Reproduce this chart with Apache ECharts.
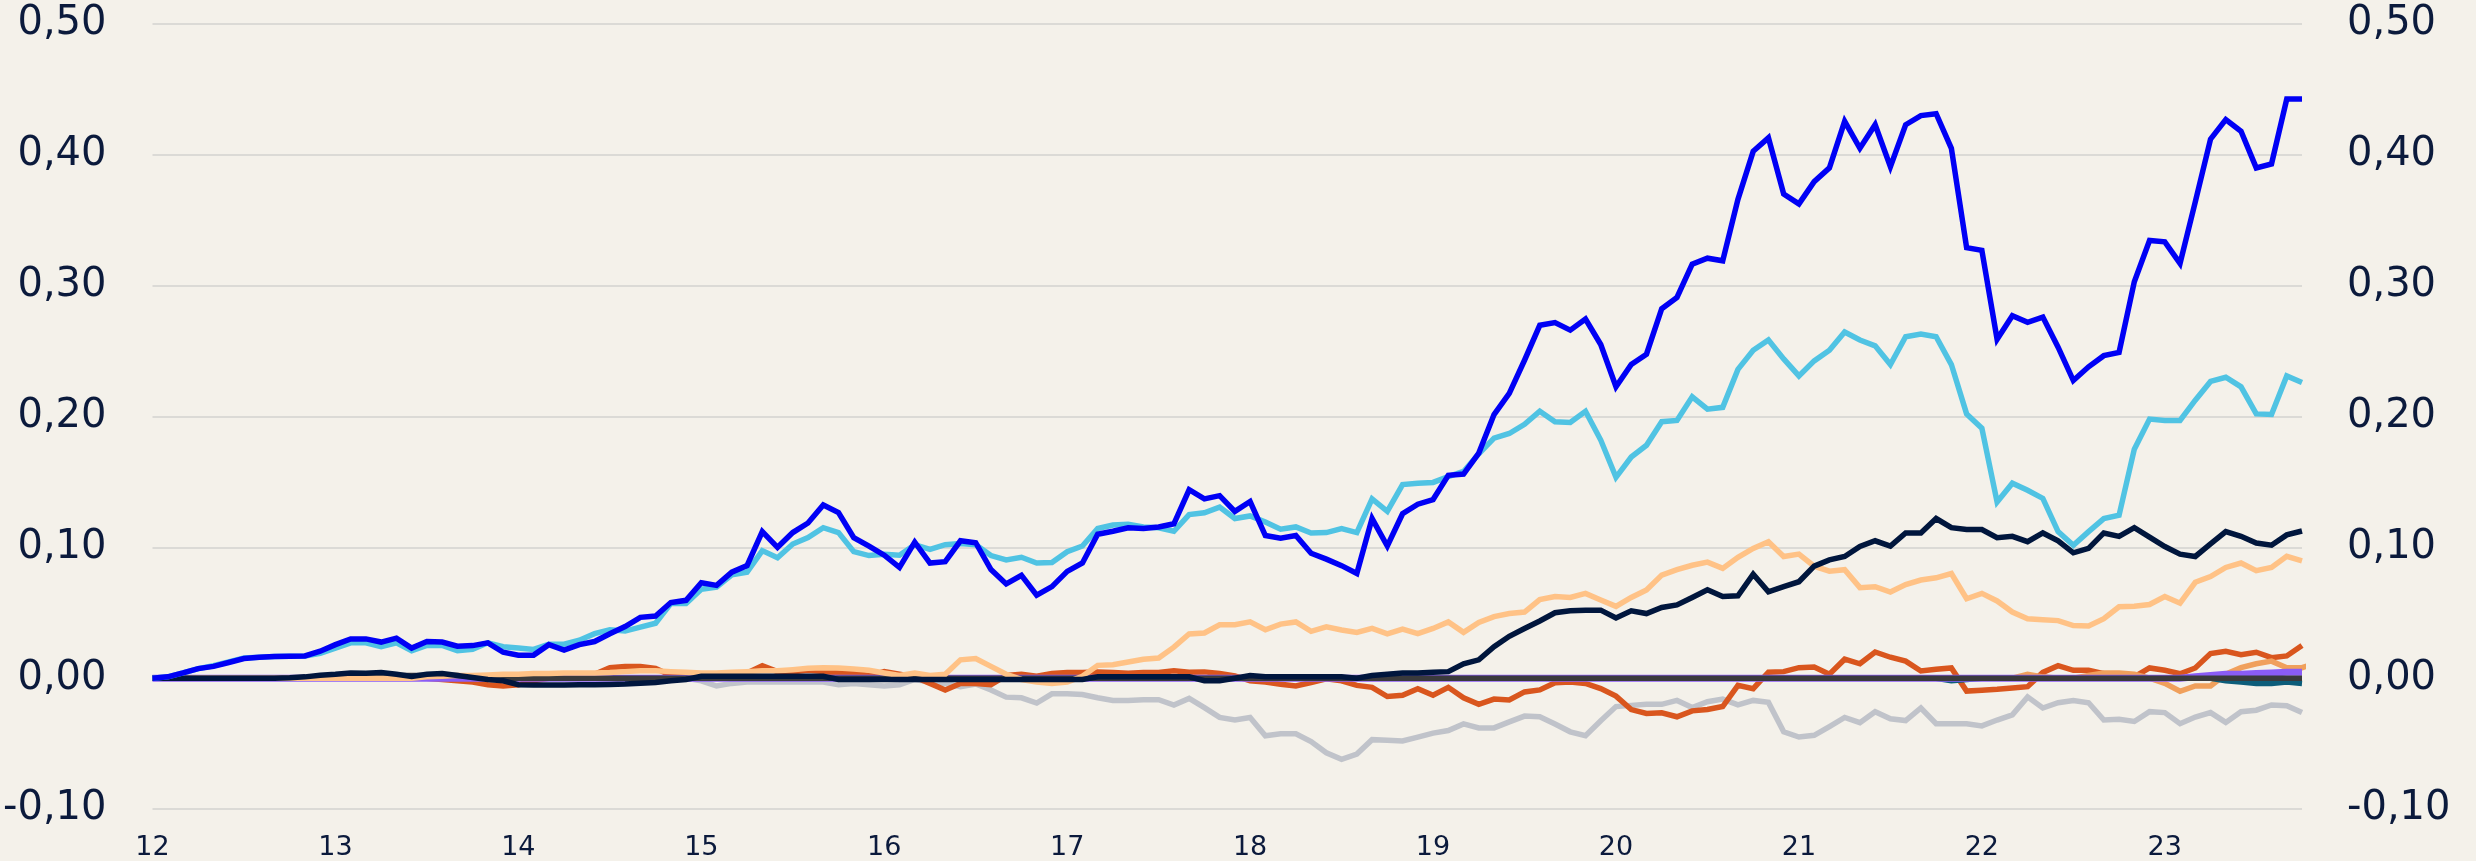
<!DOCTYPE html>
<html>
<head>
<meta charset="utf-8">
<script src="https://cdn.jsdelivr.net/npm/echarts@6/dist/echarts.min.js"></script>
<style>
html,body{margin:0;padding:0;background:#F4F1EA;}
#chart{width:2476px;height:861px;}
</style>
</head>
<body>
<div id="chart"></div>
<script>
// Year tick labels (x axis), monthly points Jan 2012 .. Oct 2023
const yearLabels = ['12','13','14','15','16','17','18','19','20','21','22','23'];
const yTicks = [-0.1, 0, 0.1, 0.2, 0.3, 0.4, 0.5];

const blue = [
0,0.001,0.004,0.0073,0.009,0.012,0.015,0.016,0.0166,0.0168,
0.017,0.0206,0.0256,0.030,0.030,0.0276,0.0306,0.023,0.028,0.0276,
0.0244,0.0249,0.027,0.0198,0.0176,0.0176,0.0256,0.0214,0.0256,0.028,
0.034,0.0394,0.0465,0.0475,0.0578,0.0595,0.0729,0.0709,0.081,0.086,
0.112,0.100,0.1113,0.1186,0.1324,0.1266,0.1073,0.101,0.094,0.0846,
0.104,0.088,0.089,0.105,0.1035,0.083,0.072,0.0786,0.0635,0.070,
0.0816,0.088,0.110,0.1123,0.115,0.1144,0.1156,0.118,0.144,0.137,
0.1395,0.1275,0.135,0.109,0.107,0.109,0.0955,0.091,0.086,0.080,
0.122,0.101,0.1257,0.133,0.1365,0.155,
0.156,0.172,0.2015,0.2176,0.243,0.2697,0.2718,0.266,0.2745,0.255,
0.2227,0.2397,0.2476,0.2824,0.291,0.3165,0.321,0.319,0.366,0.4027,
0.413,0.370,0.3625,0.3795,0.39,0.4256,0.405,0.423,
0.391,0.423,0.430,0.4314,0.405,0.329,0.327,0.259,0.277,0.272,
0.276,0.253,0.2275,0.238,0.2465,0.249,0.303,0.3345,0.3335,0.317,
0.364,0.412,0.427,0.418,0.39,0.393,0.4426,0.4426
];

const lightBlue = [
0,0.001,0.004,0.0073,0.0095,0.0125,0.0155,0.016,0.0166,0.0168,
0.017,0.019,0.023,0.027,0.027,0.024,0.027,0.021,0.025,0.025,
0.021,0.022,0.027,0.024,0.023,0.022,0.026,0.026,0.029,0.034,
0.037,0.036,0.039,0.042,0.057,0.057,0.068,0.0695,0.079,0.081,
0.0975,0.092,0.1025,0.1075,0.115,0.1113,0.0967,0.0937,0.0947,0.094,
0.102,0.0985,0.102,0.103,0.102,0.0937,0.0904,0.0924,0.088,0.0884,
0.0967,0.101,0.1144,0.117,0.1176,0.1156,0.1149,0.1123,0.125,0.1264,
0.1307,0.122,0.124,0.1194,0.1139,0.1156,0.111,0.1113,0.1144,0.1113,
0.137,0.1275,0.148,0.149,0.1496,0.154,
0.158,0.1715,0.1835,0.187,0.194,0.204,0.196,0.1954,0.204,0.182,
0.1535,0.169,0.178,0.196,0.197,0.215,0.2056,0.207,0.236,0.2506,
0.2585,0.244,0.231,0.2425,0.2506,0.2646,0.2585,0.254,
0.2397,0.261,0.263,0.261,0.2397,0.202,0.191,0.1347,0.149,0.1436,
0.1374,0.112,0.1016,0.112,0.122,0.1245,0.175,0.198,0.197,0.197,
0.2125,0.2268,0.230,0.2227,0.202,0.2015,0.231,0.226
];

const navy = [
0,0,0,0,0,0,0,0,0,0.0003,
0.001,0.0023,0.003,0.004,0.0038,0.0043,0.003,0.0013,0.003,0.0036,
0.002,0.0005,-0.001,-0.002,-0.005,-0.0053,-0.0053,-0.0053,-0.005,-0.005,
-0.0048,-0.0045,-0.0038,-0.0033,-0.002,-0.001,0.0015,0.0015,0.0015,0.0015,
0.0015,0.0015,0.0015,0.0015,0.0015,-0.001,-0.001,-0.001,-0.001,-0.001,
-0.001,-0.001,-0.001,-0.001,-0.001,-0.001,-0.001,-0.001,-0.001,-0.001,
-0.001,-0.001,0.001,0.001,0.001,0.001,0.001,0.001,0.001,-0.002,
-0.002,0,0.002,0.001,0.001,0.001,0.001,0.001,0.001,0,
0.002,0.003,0.004,0.004,0.0045,0.005,
0.011,0.014,0.024,0.032,0.038,0.0437,0.050,0.0515,0.052,0.052,
0.046,0.0515,0.0494,0.054,0.056,0.0617,0.0675,0.0624,0.063,0.0795,
0.066,0.07,0.0737,0.0856,0.0904,0.093,0.1006,0.105,
0.101,0.111,0.111,0.122,0.115,0.1136,0.1136,0.1074,0.1084,0.1043,
0.111,0.105,0.0958,0.0992,0.111,0.1084,0.115,0.1078,0.1006,0.0948,
0.093,0.1026,0.112,0.1084,0.1033,0.1016,0.1095,0.1125
];

const peach = [
0,0,0,0,0,0,0,0,0,0,
0,0,0,0,0,0,0,0,0.001,0.0015,
0.002,0.002,0.0025,0.003,0.003,0.0035,0.0036,0.004,0.004,0.004,
0.0043,0.005,0.0056,0.0056,0.005,0.0045,0.004,0.004,0.0045,0.005,
0.0056,0.0056,0.0065,0.0075,0.008,0.0078,0.007,0.006,0.004,0.002,
0.004,0.002,0.003,0.014,0.015,0.009,0.003,-0.001,-0.003,-0.004,
-0.003,0.0015,0.0098,0.0103,0.0123,0.0144,0.0154,0.0237,0.0338,0.0345,
0.0408,0.0408,0.043,0.037,0.0413,0.043,0.0358,0.0393,0.0368,0.035,
0.038,0.0338,0.0375,0.034,0.038,0.043,
0.035,0.0426,0.047,0.0494,0.0505,0.060,0.0624,0.0617,0.0648,0.0597,
0.0549,0.0617,0.0675,0.0788,0.0829,0.0863,0.0887,0.0839,0.0924,0.0992,
0.1043,0.093,0.0948,0.0856,0.0818,0.0829,0.0692,0.0699,
0.0658,0.0716,0.075,0.0767,0.080,0.0607,0.0648,0.059,0.0505,0.0454,
0.0447,0.044,0.0402,0.0399,0.0454,0.0546,0.0549,0.0563,0.0624,0.0573,
0.0733,0.0777,0.0846,0.088,0.0822,0.0846,0.0931,0.0897
];

const orangeRed = [
0,0,0,0,0,0,0,0,0,0,
0,0,0,0,0,0,0,0,0,-0.001,
-0.002,-0.003,-0.005,-0.006,-0.005,-0.002,0,0.001,0.001,0.003,
0.008,0.009,0.009,0.0075,0.002,0.002,0.002,0.002,0.003,0.004,
0.0095,0.005,0.005,0.006,0.005,0.004,0.004,0.002,0.005,0.003,
0.001,-0.004,-0.009,-0.004,-0.004,-0.005,0.002,0.003,0.0015,0.0036,
0.0043,0.0043,0.0048,0.0043,0.0038,0.0043,0.0043,0.0056,0.0045,0.0048,
0.0036,0.0018,-0.002,-0.003,-0.0046,-0.006,-0.0033,-0.0005,-0.002,-0.0055,
-0.007,-0.014,-0.013,-0.008,-0.013,-0.007,
-0.015,-0.020,-0.016,-0.0167,-0.0105,-0.009,-0.0035,-0.003,-0.004,-0.008,
-0.0137,-0.024,-0.027,-0.0265,-0.0295,-0.025,-0.024,-0.0217,-0.0055,-0.008,
0.0046,0.005,0.008,0.0086,0.003,0.0145,0.011,0.020,
0.016,0.013,0.0055,0.0068,0.0078,-0.0099,-0.0092,-0.0085,-0.0075,-0.0065,
0.0044,0.0095,0.006,0.006,0.0034,0.001,0.001,0.0078,0.006,0.0034,
0.0078,0.0188,0.0205,0.018,0.0198,0.0157,0.017,0.025
];

const grey = [
0,0,0,0,0,0,0,0,0,0,
0,0,0,0,0,0,0,0,0,0,
0,0,0,0,0,0,0,0,0,0,
0,0,0,0,0,0,-0.002,-0.006,-0.004,-0.003,
-0.003,-0.003,-0.003,-0.003,-0.003,-0.005,-0.004,-0.005,-0.006,-0.005,
-0.001,-0.003,-0.004,-0.0065,-0.0045,-0.009,-0.0145,-0.015,-0.019,-0.012,
-0.012,-0.0125,-0.015,-0.017,-0.017,-0.0165,-0.0165,-0.0205,-0.0155,-0.0225,
-0.030,-0.032,-0.030,-0.044,-0.0425,-0.0425,-0.0485,-0.057,-0.062,-0.058,
-0.047,-0.0475,-0.048,-0.045,-0.042,-0.040,
-0.035,-0.038,-0.038,-0.0334,-0.029,-0.0295,-0.035,-0.041,-0.044,-0.0325,
-0.0217,-0.0208,-0.020,-0.020,-0.017,-0.0225,-0.018,-0.016,-0.0204,-0.017,
-0.0185,-0.041,-0.045,-0.0437,-0.037,-0.030,-0.034,-0.0256,
-0.031,-0.0324,-0.0228,-0.0348,-0.0348,-0.0348,-0.0365,-0.032,-0.028,-0.0143,
-0.0228,-0.0188,-0.017,-0.0188,-0.032,-0.0314,-0.0331,-0.0256,-0.0263,-0.0348,
-0.0297,-0.0263,-0.0338,-0.0256,-0.0245,-0.0205,-0.021,-0.0263
];

const midOrange = [
0,0,0,0,0,0,0,0,0,0, 0,0,0,0,0,0,0,0,0,0,
0,0,0,0,0,0,0,0,0,0, 0,0,0,0,0,0,0,0,0,0,
0,0,0,0,0,0,0,0,0,0, 0,0,0,0,0,0,0,0,0,0,
0,0,0,0,0,0,0,0,0,0, 0,0,0,0,0,0,0,0,0,0,
0,0,0,0,0,0,0,0,0,0, 0,0,0,0,0,0,0,0,0,0,
0,0,0,0,0,0,0,0,0,0, 0,0,0,0,0,0,0,0,0,0,
0,0,0,0.003,0.001,0,0,0.002,0.004,0.004,
0.003,0,-0.004,-0.01,-0.006,-0.006,0.003,0.008,0.011,0.013,
0.008,0.008,0.012,0.0136,0.0106
];

const teal = [
0,0,0,0,0,0,0,0,0,0, 0,0,0,0,0,0,0,0,0,0,
0,0,0,0,0,0,0,0,0,0, 0,0,0,0,0,0,0,0,0,0,
0,0,0,0,0,0,0,0,0,0, 0,0,0,0,0,0,0,0,0,0,
0,0,0,0,0,0,0,0,0,0, 0,0,0,0,0,0,0,0,0,0,
0,0,0,0,0,0,0,0,0,0, 0,0,0,0,0,0,0,0,0,0,
0,0,0,0,0,0,0,0,0,0, 0,0,0,0,0,0,0,0,-0.002,-0.001,
0,0,0,0,0,0,0,0,0,0,
0,0,0,0,0,0,-0.002,-0.003,-0.004,-0.004,
-0.003,-0.004
];

const purple = [
0,0,0,0,0,0,0,0,0,0, 0,0,0,0,0,0,0,0,0,0,
0,0,0,0,0,0,0,0,0,0, 0,0,0,0,0,0,0,0,0,0,
0,0,0,0,0,0,0,0,0,0, 0,0,0,0,0,0,0,0,0,0,
0,0,0,0,0,0,0,0,0,0, 0,0,0,0,0,0,0,0,0,0,
0,0,0,0,0,0,0,0,0,0, 0,0,0,0,0,0,0,0,0,0,
0,0,0,0,0,0,0,0,0,0, 0,0,0,0,0,0,0,0,0,0,
0,0,0,0,0,0,0,0,0,0, 0,0,0,0,0.001,0.002,0.003,0.003,0.0035,0.004,
0.0045,0.0045
];

const darkGrey = [
0,0,0,0,0,0,0,0,0,0, 0,0.001,0.002,0.002,0.002,0.002,0.002,0.002,0.002,0.002,
0.002,0.001,0,0,0,0,0,0,0,0, 0,0,0,0,0,0,0,0,0,0,
0,0,0,0,0,0,0,0,0,0, 0,0,0,0,0,0,0,0,0,0,
0,0,0,0,0,0,0,0,0,0, 0,0,0,0,0,0,0,0,0,0,
0,0,0,0,0,0,0,0,0,0, 0,0,0,0,0,0,0,0,0,0,
0,0,0,0,0,0,0,0,0,0, 0,0,0,0,0,0,0,0,0,0,
0,0,0,0,0,0,0,0,0,0, 0,0,0,0,0,0,0,0,0,0,
0,0
];

const months = [];
for (let i = 0; i < blue.length; i++) {
  months.push(yearLabels[Math.floor(i / 12)] + '-' + String(i % 12 + 1).padStart(2, '0'));
}

const chart = echarts.init(document.getElementById('chart'), null, {renderer: 'canvas'});
const textColor = '#0B1A3C';
const fontFam = '"DejaVu Sans", sans-serif';
const fmtY = v => v.toFixed(2).replace('.', ',');

function line(name, data, color, width) {
  return {
    name: name, type: 'line', data: data, showSymbol: false, symbol: 'none',
    lineStyle: {color: color, width: width, join: 'miter'},
    itemStyle: {color: color}, animation: false, silent: true
  };
}

chart.setOption({
  backgroundColor: '#F4F1EA',
  animation: false,
  grid: {left: 150, right: 174, top: 24, bottom: 51},
  xAxis: {
    type: 'category', data: months, boundaryGap: false,
    axisLine: {show: false}, axisTick: {show: false},
    axisLabel: {
      interval: 11, margin: 25, color: textColor, fontSize: 27, fontFamily: fontFam,
      formatter: v => v.split('-')[0]
    },
    splitLine: {show: false}
  },
  yAxis: [
    {
      type: 'value', min: -0.1, max: 0.5, interval: 0.1, position: 'left',
      axisLine: {show: false}, axisTick: {show: false},
      axisLabel: {margin: 46, color: textColor, fontSize: 40, fontFamily: fontFam, formatter: fmtY},
      splitLine: {show: true, lineStyle: {color: '#DBDAD6', width: 2}}
    },
    {
      type: 'value', min: -0.1, max: 0.5, interval: 0.1, position: 'right',
      axisLine: {show: false}, axisTick: {show: false},
      axisLabel: {margin: 45, color: textColor, fontSize: 40, fontFamily: fontFam, formatter: fmtY},
      splitLine: {show: false}
    }
  ],
  series: [
    line('Grey', grey, '#C0C3CA', 5.5),
    line('Orange red', orangeRed, '#D9561E', 5.5),
    line('Orange', midOrange, '#F0A05C', 5.5),
    line('Teal', teal, '#0C5D7A', 5.5),
    line('Purple', purple, '#8A5CF6', 7),
    line('Dark grey', darkGrey, '#3A3A3C', 5.5),
    line('Peach', peach, '#FFC286', 5.5),
    line('Navy', navy, '#00163D', 5.5),
    line('Light blue', lightBlue, '#50C3E3', 5.5),
    line('Blue', blue, '#0000F5', 5.5)
  ]
});
</script>
</body>
</html>
